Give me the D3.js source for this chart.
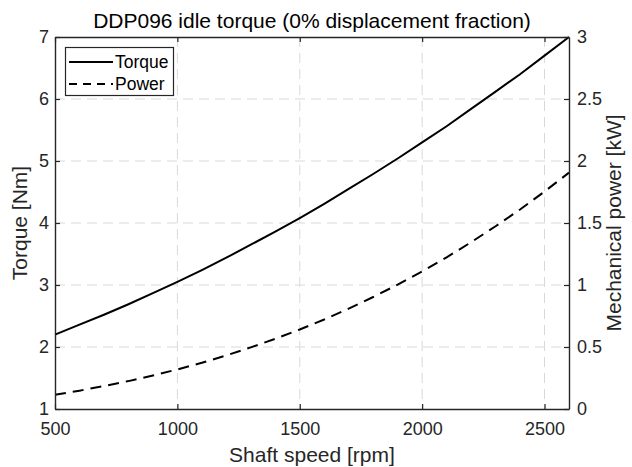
<!DOCTYPE html>
<html>
<head>
<meta charset="utf-8">
<script src="https://cdn.jsdelivr.net/npm/d3@7"></script>
<style>
  html, body { margin: 0; padding: 0; background: #fff; }
  svg { display: block; font-family: "Liberation Sans", Arial, Helvetica, sans-serif; }
</style>
</head>
<body>
<svg id="chart" width="632" height="467"></svg>
<script>
// ---- data ----
const speedRpm = [500, 600, 700, 800, 900, 1000, 1100, 1200, 1300, 1400, 1500,
                  1600, 1700, 1800, 1900, 2000, 2100, 2200, 2300, 2400, 2500, 2600];
const torqueNm = [2.20, 2.36, 2.52, 2.69, 2.87, 3.05, 3.24, 3.44, 3.65, 3.86, 4.08,
                  4.31, 4.55, 4.79, 5.04, 5.30, 5.56, 5.84, 6.12, 6.40, 6.70, 7.00];
const powerKw  = [0.115, 0.148, 0.185, 0.225, 0.270, 0.319, 0.373, 0.432, 0.497, 0.566, 0.641,
                  0.722, 0.810, 0.903, 1.003, 1.110, 1.223, 1.345, 1.474, 1.609, 1.754, 1.906];
const xTicks = [500, 1000, 1500, 2000, 2500];
const yLeftTicks = [1, 2, 3, 4, 5, 6, 7];
const yRightTicks = [0, 0.5, 1, 1.5, 2, 2.5, 3];
const titleText = "DDP096 idle torque (0% displacement fraction)";
const xLabel = "Shaft speed [rpm]";
const yLeftLabel = "Torque [Nm]";
const yRightLabel = "Mechanical power [kW]";
const legendLabels = ["Torque", "Power"];

// ---- layout ----
const svg = d3.select("#chart");
const L = 55, R = 569, T = 37, B = 409;
const axisColor = "#262626";
const gridColor = "#d9d9d9";
const fmt = d3.format("~g");

const x = d3.scaleLinear().domain([500, 2600]).range([L, R]);
const yL = d3.scaleLinear().domain([1, 7]).range([B, T]);
const yR = d3.scaleLinear().domain([0, 3]).range([B, T]);

// grid
const grid = svg.append("g");
grid.selectAll("line.gx").data(xTicks.filter(d => d > 500)).enter().append("line")
  .attr("x1", d => x(d)).attr("x2", d => x(d)).attr("y1", T).attr("y2", B)
  .attr("stroke", gridColor).attr("stroke-width", 1).attr("stroke-dasharray", "10,6");
grid.selectAll("line.gy").data(yLeftTicks.filter(d => d > 1 && d < 7)).enter().append("line")
  .attr("x1", L).attr("x2", R).attr("y1", d => yL(d)).attr("y2", d => yL(d))
  .attr("stroke", gridColor).attr("stroke-width", 1).attr("stroke-dasharray", "10,6");

// curves
const lineT = d3.line().x((d, i) => x(speedRpm[i])).y(d => yL(d));
const lineP = d3.line().x((d, i) => x(speedRpm[i])).y(d => yR(d));
svg.append("path").datum(torqueNm).attr("d", lineT)
  .attr("fill", "none").attr("stroke", "#000").attr("stroke-width", 2);
svg.append("path").datum(powerKw).attr("d", lineP)
  .attr("fill", "none").attr("stroke", "#000").attr("stroke-width", 2)
  .attr("stroke-dasharray", "11,7");

// axes
const fs = 18;
const gB = svg.append("g").attr("transform", `translate(0,${B})`)
  .call(d3.axisBottom(x).tickValues(xTicks).tickFormat(fmt).tickSizeInner(-5).tickSizeOuter(0).tickPadding(13));
const gTop = svg.append("g").attr("transform", `translate(0,${T})`)
  .call(d3.axisTop(x).tickValues(xTicks).tickSizeInner(-5).tickSizeOuter(0).tickFormat(""));
const gL = svg.append("g").attr("transform", `translate(${L},0)`)
  .call(d3.axisLeft(yL).tickValues(yLeftTicks).tickFormat(fmt).tickSizeInner(-5).tickSizeOuter(0).tickPadding(6));
const gR = svg.append("g").attr("transform", `translate(${R},0)`)
  .call(d3.axisRight(yR).tickValues(yRightTicks).tickFormat(fmt).tickSizeInner(-5).tickSizeOuter(0).tickPadding(8));
[gB, gTop, gL, gR].forEach(g => {
  g.select(".domain").attr("stroke", axisColor).attr("stroke-width", 1.4);
  g.selectAll(".tick line").attr("stroke", axisColor).attr("stroke-width", 1.2);
  g.selectAll(".tick text").attr("fill", axisColor)
    .style("font-size", fs + "px").style("font-family", "'Liberation Sans', Arial, sans-serif");
});
gB.selectAll(".tick text").attr("dy", "0.71em");

// title & labels
svg.append("text").attr("x", (L + R) / 2).attr("y", 28).attr("text-anchor", "middle")
  .style("font-size", "21px").attr("fill", "#000").text(titleText);
svg.append("text").attr("x", (L + R) / 2).attr("y", 462).attr("text-anchor", "middle")
  .style("font-size", "21px").attr("fill", axisColor).text(xLabel);
svg.append("text").attr("transform", `translate(27,${(T + B) / 2}) rotate(-90)`)
  .attr("text-anchor", "middle").style("font-size", "21px").attr("fill", axisColor).text(yLeftLabel);
svg.append("text").attr("transform", `translate(621,${(T + B) / 2}) rotate(-90)`)
  .attr("text-anchor", "middle").style("font-size", "21px").attr("fill", axisColor).text(yRightLabel);

// legend
const lg = svg.append("g");
lg.append("rect").attr("x", 65.5).attr("y", 47.5).attr("width", 108).attr("height", 48)
  .attr("fill", "#fff").attr("stroke", axisColor).attr("stroke-width", 1.2);
const rowsY = [62, 84];
legendLabels.forEach((lab, i) => {
  lg.append("line").attr("x1", 69).attr("x2", 113).attr("y1", rowsY[i]).attr("y2", rowsY[i])
    .attr("stroke", "#000").attr("stroke-width", 2)
    .attr("stroke-dasharray", i === 1 ? "8,6" : null);
  lg.append("text").attr("x", 115).attr("y", rowsY[i]).attr("dy", "0.35em")
    .style("font-size", "17.5px").attr("fill", "#000").text(lab);
});
</script>
</body>
</html>
